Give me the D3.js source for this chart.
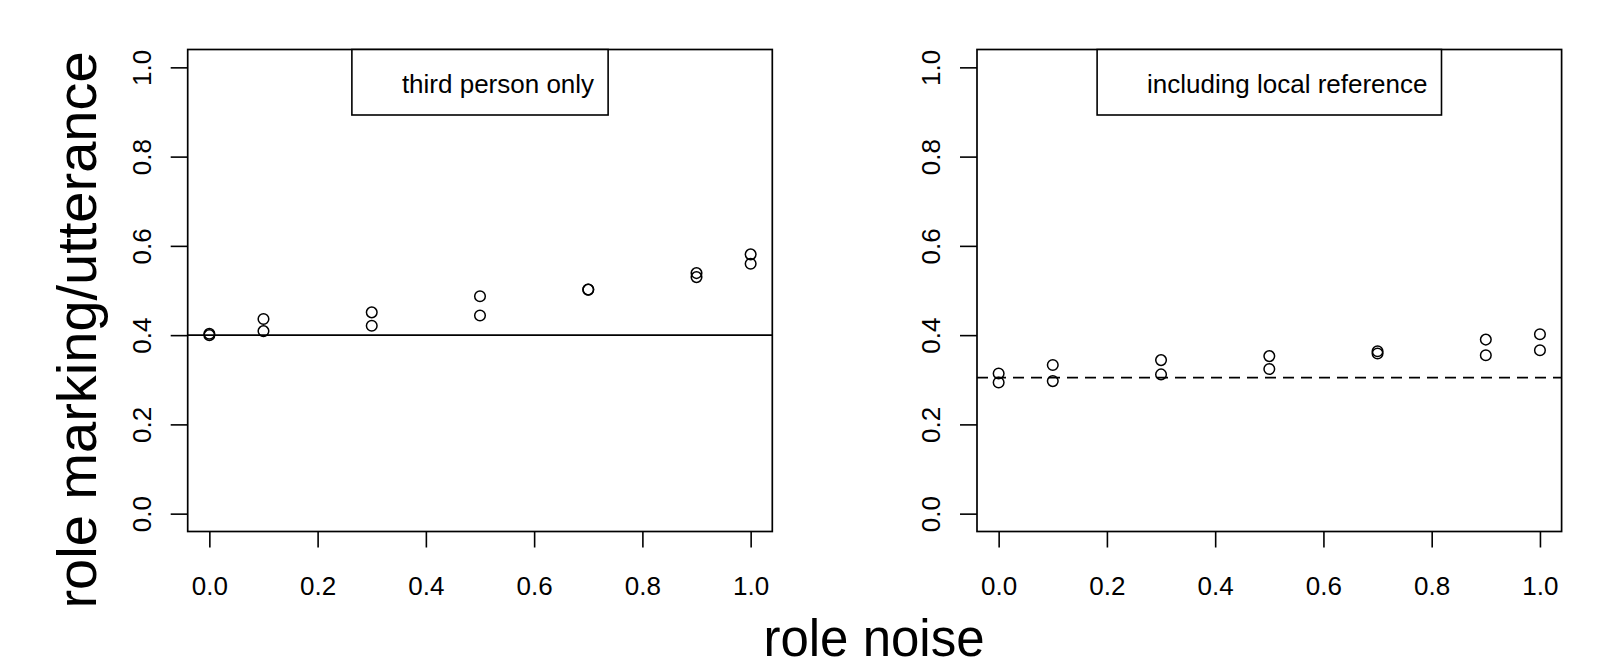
<!DOCTYPE html>
<html>
<head>
<meta charset="utf-8">
<script src="https://cdn.jsdelivr.net/npm/d3@7"></script>
<style>
  html, body { margin: 0; padding: 0; background: #fff; }
  svg { display: block; }
  text { font-family: "Liberation Sans", Arial, sans-serif; fill: #000; }
</style>
</head>
<body>
<svg id="chart" width="1600" height="667"></svg>
<script>
// ---- data ----
const xTicks = [0.0, 0.2, 0.4, 0.6, 0.8, 1.0];
const yTicks = [0.0, 0.2, 0.4, 0.6, 0.8, 1.0];
const xLabel = "role noise";
const yLabel = "role marking/utterance";

const leftTitle = "third person only";
const leftNoise = [0.0, 0.0, 0.1, 0.1, 0.3, 0.3, 0.5, 0.5, 0.7, 0.7, 0.9, 0.9, 1.0, 1.0];
const leftValues = [0.400, 0.403, 0.436, 0.409, 0.451, 0.421, 0.487, 0.444, 0.502, 0.502, 0.539, 0.530, 0.581, 0.560];
const leftRef = 0.40;

const rightTitle = "including local reference";
const rightNoise = [0.0, 0.0, 0.1, 0.1, 0.3, 0.3, 0.5, 0.5, 0.7, 0.7, 0.9, 0.9, 1.0, 1.0];
const rightValues = [0.314, 0.294, 0.333, 0.297, 0.344, 0.312, 0.353, 0.324, 0.364, 0.359, 0.390, 0.355, 0.402, 0.366];
const rightRef = 0.305;

// ---- layout ----
const svg = d3.select("#chart");
const plotTop = 49.5, plotBottom = 531.5;
const panels = [
  { left: 187.7, right: 772.3, title: leftTitle, xs: leftNoise, ys: leftValues, ref: leftRef, dash: null },
  { left: 977, right: 1561.6, title: rightTitle, xs: rightNoise, ys: rightValues, ref: rightRef, dash: "11,7" }
];
const fs = 26;

panels.forEach(p => {
  const x = d3.scaleLinear().domain([-0.04, 1.04]).range([p.left, p.right]);
  const y = d3.scaleLinear().domain([-0.04, 1.04]).range([plotBottom, plotTop]);
  const g = svg.append("g");

  // x axis
  const xa = g.append("g").attr("transform", `translate(0,${plotBottom})`)
    .call(d3.axisBottom(x).tickValues(xTicks).tickSize(16).tickPadding(29).tickFormat(d3.format(".1f")));
  xa.select(".domain").remove();
  xa.selectAll("line").attr("stroke", "#000").attr("stroke-width", 1.6);
  xa.selectAll("text").attr("font-size", fs).attr("font-family", "Liberation Sans, Arial, sans-serif")
    .attr("fill", "#111").attr("dy", "0.71em");

  // y axis
  const ya = g.append("g").attr("transform", `translate(${p.left},0)`)
    .call(d3.axisLeft(y).tickValues(yTicks).tickSize(17).tickFormat(d3.format(".1f")));
  ya.select(".domain").remove();
  ya.selectAll("line").attr("stroke", "#000").attr("stroke-width", 1.6);
  ya.selectAll("text")
    .attr("font-size", fs).attr("font-family", "Liberation Sans, Arial, sans-serif").attr("fill", "#111")
    .attr("x", null).attr("dy", null)
    .attr("text-anchor", "middle")
    .attr("transform", "translate(-37,0) rotate(-90)");

  // reference line
  g.append("line")
    .attr("x1", p.left).attr("x2", p.right)
    .attr("y1", y(p.ref)).attr("y2", y(p.ref))
    .attr("stroke", "#000").attr("stroke-width", 1.7)
    .attr("stroke-dasharray", p.dash);

  // points
  g.selectAll("circle.pt").data(p.xs.map((v, i) => [v, p.ys[i]])).enter()
    .append("circle").attr("class", "pt")
    .attr("cx", d => x(d[0])).attr("cy", d => y(d[1])).attr("r", 5.3)
    .attr("fill", "none").attr("stroke", "#000").attr("stroke-width", 1.5);

  // box
  g.append("rect")
    .attr("x", p.left).attr("y", plotTop)
    .attr("width", p.right - p.left).attr("height", plotBottom - plotTop)
    .attr("fill", "none").attr("stroke", "#000").attr("stroke-width", 1.7);

  // legend
  const cx = (p.left + p.right) / 2;
  const lg = g.append("g");
  const t = lg.append("text").attr("font-size", fs).attr("fill", "#111").text(p.title);
  const tw = t.node().getComputedTextLength();
  const bw = tw + 50 + 14;
  const bx = cx - bw / 2;
  t.attr("x", bx + 50).attr("y", 93);
  lg.insert("rect", "text")
    .attr("x", bx).attr("y", plotTop).attr("width", bw).attr("height", 115 - plotTop)
    .attr("fill", "#fff").attr("stroke", "#000").attr("stroke-width", 1.6);
});

// axis titles
svg.append("text")
  .attr("font-size", 51).attr("text-anchor", "middle")
  .attr("x", 874).attr("y", 656).text(xLabel);

svg.append("text")
  .attr("font-size", 56).attr("text-anchor", "middle")
  .attr("transform", "translate(96,330) rotate(-90)")
  .text(yLabel);
</script>
</body>
</html>
